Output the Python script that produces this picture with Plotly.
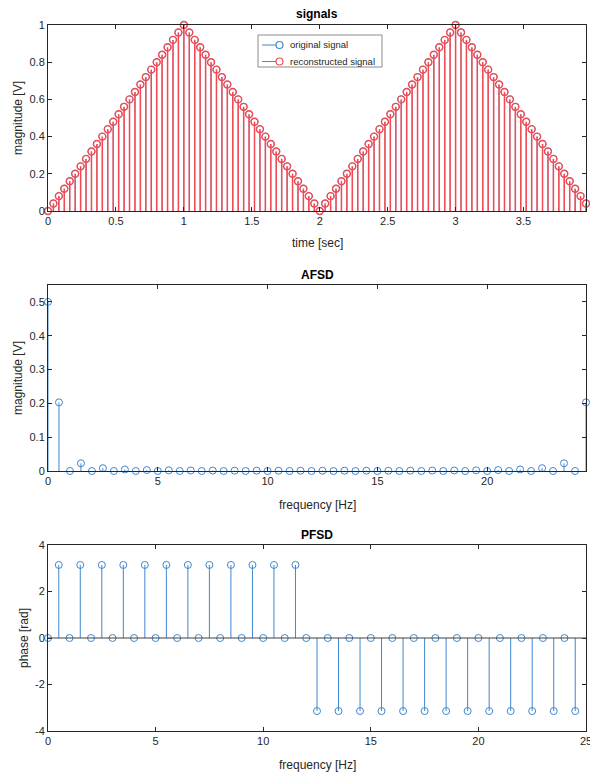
import plotly.graph_objects as go

# ---------------- data ----------------
time_s = [
    0.00, 0.04, 0.08, 0.12, 0.16, 0.20, 0.24, 0.28, 0.32, 0.36, 0.40, 0.44, 0.48, 0.52, 0.56, 0.60, 0.64, 0.68, 0.72, 0.76,
    0.80, 0.84, 0.88, 0.92, 0.96, 1.00, 1.04, 1.08, 1.12, 1.16, 1.20, 1.24, 1.28, 1.32, 1.36, 1.40, 1.44, 1.48, 1.52, 1.56,
    1.60, 1.64, 1.68, 1.72, 1.76, 1.80, 1.84, 1.88, 1.92, 1.96, 2.00, 2.04, 2.08, 2.12, 2.16, 2.20, 2.24, 2.28, 2.32, 2.36,
    2.40, 2.44, 2.48, 2.52, 2.56, 2.60, 2.64, 2.68, 2.72, 2.76, 2.80, 2.84, 2.88, 2.92, 2.96, 3.00, 3.04, 3.08, 3.12, 3.16,
    3.20, 3.24, 3.28, 3.32, 3.36, 3.40, 3.44, 3.48, 3.52, 3.56, 3.60, 3.64, 3.68, 3.72, 3.76, 3.80, 3.84, 3.88, 3.92, 3.96,
]
original_signal = [
    0.00, 0.04, 0.08, 0.12, 0.16, 0.20, 0.24, 0.28, 0.32, 0.36, 0.40, 0.44, 0.48, 0.52, 0.56, 0.60, 0.64, 0.68, 0.72, 0.76,
    0.80, 0.84, 0.88, 0.92, 0.96, 1.00, 0.96, 0.92, 0.88, 0.84, 0.80, 0.76, 0.72, 0.68, 0.64, 0.60, 0.56, 0.52, 0.48, 0.44,
    0.40, 0.36, 0.32, 0.28, 0.24, 0.20, 0.16, 0.12, 0.08, 0.04, 0.00, 0.04, 0.08, 0.12, 0.16, 0.20, 0.24, 0.28, 0.32, 0.36,
    0.40, 0.44, 0.48, 0.52, 0.56, 0.60, 0.64, 0.68, 0.72, 0.76, 0.80, 0.84, 0.88, 0.92, 0.96, 1.00, 0.96, 0.92, 0.88, 0.84,
    0.80, 0.76, 0.72, 0.68, 0.64, 0.60, 0.56, 0.52, 0.48, 0.44, 0.40, 0.36, 0.32, 0.28, 0.24, 0.20, 0.16, 0.12, 0.08, 0.04,
]
reconstructed_signal = [
    0.00, 0.04, 0.08, 0.12, 0.16, 0.20, 0.24, 0.28, 0.32, 0.36, 0.40, 0.44, 0.48, 0.52, 0.56, 0.60, 0.64, 0.68, 0.72, 0.76,
    0.80, 0.84, 0.88, 0.92, 0.96, 1.00, 0.96, 0.92, 0.88, 0.84, 0.80, 0.76, 0.72, 0.68, 0.64, 0.60, 0.56, 0.52, 0.48, 0.44,
    0.40, 0.36, 0.32, 0.28, 0.24, 0.20, 0.16, 0.12, 0.08, 0.04, 0.00, 0.04, 0.08, 0.12, 0.16, 0.20, 0.24, 0.28, 0.32, 0.36,
    0.40, 0.44, 0.48, 0.52, 0.56, 0.60, 0.64, 0.68, 0.72, 0.76, 0.80, 0.84, 0.88, 0.92, 0.96, 1.00, 0.96, 0.92, 0.88, 0.84,
    0.80, 0.76, 0.72, 0.68, 0.64, 0.60, 0.56, 0.52, 0.48, 0.44, 0.40, 0.36, 0.32, 0.28, 0.24, 0.20, 0.16, 0.12, 0.08, 0.04,
]

freq_hz = [
    0.0, 0.5, 1.0, 1.5, 2.0, 2.5, 3.0, 3.5, 4.0, 4.5, 5.0, 5.5, 6.0, 6.5, 7.0, 7.5, 8.0, 8.5, 9.0, 9.5,
    10.0, 10.5, 11.0, 11.5, 12.0, 12.5, 13.0, 13.5, 14.0, 14.5, 15.0, 15.5, 16.0, 16.5, 17.0, 17.5, 18.0, 18.5, 19.0, 19.5,
    20.0, 20.5, 21.0, 21.5, 22.0, 22.5, 23.0, 23.5, 24.0, 24.5,
]
afsd_mag = [
    0.5, 0.2029, 0.0, 0.0228, 0.0, 0.0084, 0.0, 0.0044, 0.0, 0.0028,
    0.0, 0.0020, 0.0, 0.0015, 0.0, 0.0012, 0.0, 0.0010, 0.0, 0.0009,
    0.0, 0.0009, 0.0, 0.0008, 0.0, 0.0008, 0.0, 0.0008, 0.0, 0.0009,
    0.0, 0.0009, 0.0, 0.0010, 0.0, 0.0012, 0.0, 0.0015, 0.0, 0.0020,
    0.0, 0.0028, 0.0, 0.0044, 0.0, 0.0084, 0.0, 0.0228, 0.0, 0.2029,
]
pfsd_phase = [
    0.0, 3.1416, 0.0, 3.1416, 0.0, 3.1416, 0.0, 3.1416, 0.0, 3.1416,
    0.0, 3.1416, 0.0, 3.1416, 0.0, 3.1416, 0.0, 3.1416, 0.0, 3.1416,
    0.0, 3.1416, 0.0, 3.1416, 0.0, -3.1416, 0.0, -3.1416, 0.0, -3.1416,
    0.0, -3.1416, 0.0, -3.1416, 0.0, -3.1416, 0.0, -3.1416, 0.0, -3.1416,
    0.0, -3.1416, 0.0, -3.1416, 0.0, -3.1416, 0.0, -3.1416, 0.0, -3.1416,
]

legend_names = ["original signal", "reconstructed signal"]

BLUE = "#3f88d0"
RED = "#f24a52"
AXC = "#262626"
FONT = "Liberation Sans, Arial, sans-serif"


def stem(x, y, color, xa, ya, name, mw=1.0, sw=1.0):
    up = [max(-v, 0) for v in y]
    down = [max(v, 0) for v in y]
    return go.Scatter(
        x=x, y=y, mode="markers", name=name, showlegend=False,
        xaxis=xa, yaxis=ya, cliponaxis=False,
        marker=dict(symbol="circle-open", size=7, color=color, line=dict(width=mw, color=color)),
        error_y=dict(type="data", symmetric=False, array=up, arrayminus=down,
                     color=color, thickness=sw, width=0),
    )


fig = go.Figure()
fig.add_trace(stem(time_s, original_signal, BLUE, "x", "y", legend_names[0], mw=0.8, sw=0.8))
fig.add_trace(stem(time_s, reconstructed_signal, RED, "x", "y", legend_names[1], mw=1.4, sw=1.5))
fig.add_trace(stem(freq_hz, afsd_mag, BLUE, "x2", "y2", "AFSD"))
fig.add_trace(stem(freq_hz, pfsd_phase, BLUE, "x3", "y3", "PFSD"))

ax_common = dict(showline=True, linecolor=AXC, linewidth=1, mirror="ticks", ticks="inside",
                 ticklen=4, tickcolor=AXC, showgrid=False, zeroline=False, automargin=False,
                 tickfont=dict(family=FONT, size=11, color=AXC))

PH = 706.0
PW = 538.0
def py(pix):
    return (731 - pix) / PH
def px(pix):
    return (pix - 48) / PW

fig.update_layout(
    width=590, height=776,
    margin=dict(l=48, r=4, t=25, b=45, autoexpand=False),
    paper_bgcolor="white", plot_bgcolor="white",
    font=dict(family=FONT, size=11, color=AXC),
    showlegend=False,
    xaxis=dict(domain=[0, 1], anchor="y", range=[0, 3.96],
               tickvals=[0, 0.5, 1, 1.5, 2, 2.5, 3, 3.5],
               ticktext=["0", "0.5", "1", "1.5", "2", "2.5", "3", "3.5"], **ax_common),
    yaxis=dict(domain=[py(211), 1.0], anchor="x", range=[0, 1],
               tickvals=[0, 0.2, 0.4, 0.6, 0.8, 1],
               ticktext=["0", "0.2", "0.4", "0.6", "0.8", "1"], **ax_common),
    xaxis2=dict(domain=[0, 1], anchor="y2", range=[0, 24.5],
                tickvals=[0, 5, 10, 15, 20], ticktext=["0", "5", "10", "15", "20"], **ax_common),
    yaxis2=dict(domain=[py(471), py(285)], anchor="x2", range=[0, 0.55],
                tickvals=[0, 0.1, 0.2, 0.3, 0.4, 0.5],
                ticktext=["0", "0.1", "0.2", "0.3", "0.4", "0.5"], **ax_common),
    xaxis3=dict(domain=[0, 1], anchor="y3", range=[0, 25], ticklabeloverflow="allow",
                tickvals=[0, 5, 10, 15, 20, 25], ticktext=["0", "5", "10", "15", "20", "25"], **ax_common),
    yaxis3=dict(domain=[0, py(545)], anchor="x3", range=[-4, 4],
                tickvals=[-4, -2, 0, 2, 4], ticktext=["-4", "-2", "0", "2", "4"], **ax_common),
)

shapes = []
# baseline for PFSD
shapes.append(dict(type="line", xref="x3 domain", yref="y3", x0=0, x1=1, y0=0, y1=0,
                   line=dict(color="#404040", width=1), layer="above"))

# compact legend box (MATLAB style)
shapes.append(dict(type="rect", xref="paper", yref="paper", x0=px(258), x1=px(382), y0=py(67), y1=py(35),
                   line=dict(color="#8c8c8c", width=1), fillcolor="white", layer="above"))
ann = []
for i, (nm, c) in enumerate(zip(legend_names, [BLUE, RED])):
    yc = 45 + i * 16.5
    shapes.append(dict(type="line", xref="paper", yref="paper", x0=px(262), x1=px(276), y0=py(yc), y1=py(yc),
                       line=dict(color=c, width=1), layer="above"))
    shapes.append(dict(type="circle", xref="paper", yref="paper", x0=px(276), x1=px(283),
                       y0=py(yc + 3.5), y1=py(yc - 3.5), line=dict(color=c, width=1.2), layer="above"))
    ann.append(dict(text=nm, xref="paper", yref="paper", x=px(288), y=py(yc), xanchor="left", yanchor="middle",
                    showarrow=False, font=dict(family=FONT, size=9.5, color=AXC)))

fig.update_layout(shapes=shapes)


def text(t, x, y, size=12, bold=False, angle=0):
    ann.append(dict(text=("<b>%s</b>" % t) if bold else t, xref="paper", yref="paper",
                    x=x, y=y, xanchor="center", yanchor="middle", showarrow=False,
                    textangle=angle, font=dict(family=FONT, size=size, color="black" if bold else AXC)))

text("signals", 0.5, py(14), 12, True)
text("AFSD", 0.5, py(275), 12, True)
text("PFSD", 0.5, py(535), 12, True)
text("time [sec]", 0.5, py(243), 12)
text("frequency [Hz]", 0.5, py(505), 12)
text("frequency [Hz]", 0.5, py(765), 12)
text("magnitude [V]", px(18), py(118), 12, angle=-90)
text("magnitude [V]", px(18), py(378), 12, angle=-90)
text("phase [rad]", px(24), py(638), 12, angle=-90)
fig.update_layout(annotations=ann)

fig.write_html("out.html")
